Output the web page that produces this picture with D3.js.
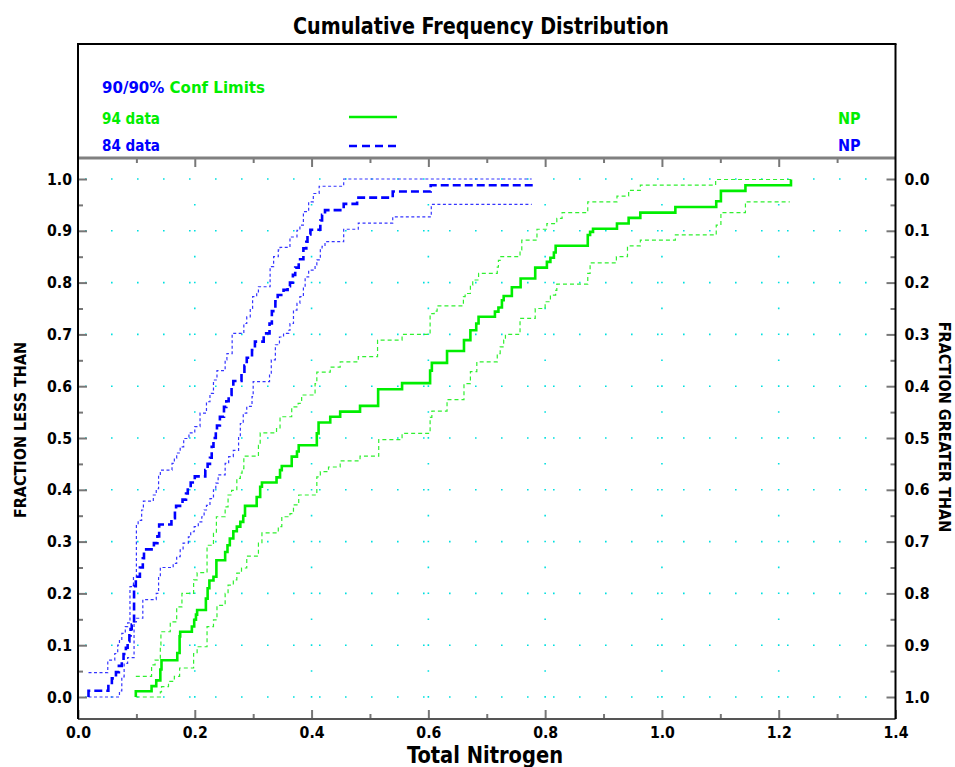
<!DOCTYPE html>
<html>
<head>
<meta charset="UTF-8">
<title>Cumulative Frequency Distribution</title>
<script src="https://cdn.jsdelivr.net/npm/d3@7/dist/d3.min.js"></script>
<style>
body{margin:0;background:#fff}
text{font-family:"DejaVu Sans Condensed","DejaVu Sans",sans-serif}
</style>
</head>
<body>
<svg width="955" height="767"></svg>
<script>
// tick values
var xTicks = [0, 0.2, 0.4, 0.6, 0.8, 1.0, 1.2, 1.4];
var xMinor = [0.1, 0.3, 0.5, 0.7, 0.9, 1.1, 1.3];
var yTicks = [0, 0.1, 0.2, 0.3, 0.4, 0.5, 0.6, 0.7, 0.8, 0.9, 1.0];
var yMinor = [0.05, 0.15, 0.25, 0.35, 0.45, 0.55, 0.65, 0.75, 0.85, 0.95];
var xGrid = [0.2, 0.4, 0.6, 0.8, 1.0, 1.2];

// 84 data (blue) : step points [x, fraction]
var blueMain = [[0.018,0],[0.018,0.012],[0.052,0.024],[0.058,0.036],[0.065,0.048],[0.070,0.060],[0.075,0.071],[0.078,0.083],[0.082,0.095],[0.085,0.107],[0.088,0.119],[0.090,0.131],[0.092,0.140],[0.096,0.214],[0.099,0.232],[0.106,0.250],[0.111,0.268],[0.113,0.285],[0.130,0.297],[0.136,0.310],[0.139,0.333],[0.160,0.345],[0.166,0.360],[0.168,0.369],[0.179,0.381],[0.185,0.393],[0.188,0.405],[0.193,0.414],[0.200,0.426],[0.218,0.438],[0.222,0.450],[0.226,0.462],[0.229,0.483],[0.232,0.500],[0.236,0.512],[0.238,0.524],[0.243,0.541],[0.250,0.560],[0.254,0.571],[0.258,0.583],[0.263,0.600],[0.266,0.610],[0.280,0.625],[0.285,0.640],[0.289,0.655],[0.298,0.670],[0.303,0.686],[0.318,0.702],[0.328,0.721],[0.332,0.745],[0.338,0.764],[0.342,0.776],[0.352,0.786],[0.359,0.793],[0.363,0.800],[0.368,0.815],[0.372,0.829],[0.378,0.845],[0.386,0.866],[0.391,0.879],[0.393,0.893],[0.398,0.902],[0.415,0.920],[0.418,0.931],[0.423,0.940],[0.455,0.952],[0.478,0.964],[0.539,0.976],[0.604,0.988],[0.783,0.988]];
var blueUpper = [[0.018,0.047],[0.051,0.071],[0.063,0.084],[0.068,0.100],[0.071,0.110],[0.075,0.123],[0.081,0.136],[0.085,0.143],[0.089,0.213],[0.095,0.232],[0.100,0.333],[0.103,0.341],[0.109,0.361],[0.112,0.378],[0.129,0.390],[0.134,0.402],[0.138,0.428],[0.141,0.438],[0.161,0.451],[0.165,0.461],[0.169,0.471],[0.175,0.483],[0.181,0.499],[0.190,0.510],[0.200,0.522],[0.209,0.548],[0.220,0.570],[0.226,0.586],[0.232,0.612],[0.238,0.630],[0.252,0.651],[0.255,0.663],[0.264,0.702],[0.284,0.721],[0.289,0.734],[0.295,0.750],[0.299,0.773],[0.306,0.782],[0.309,0.792],[0.329,0.831],[0.335,0.850],[0.343,0.863],[0.346,0.868],[0.363,0.888],[0.375,0.901],[0.380,0.911],[0.386,0.937],[0.395,0.956],[0.403,0.972],[0.413,0.986],[0.455,1.0],[0.777,1.0]];
var blueLower = [[0.018,0],[0.071,0.012],[0.075,0.039],[0.079,0.065],[0.085,0.076],[0.096,0.145],[0.100,0.152],[0.111,0.188],[0.134,0.200],[0.138,0.232],[0.141,0.250],[0.163,0.258],[0.169,0.271],[0.175,0.284],[0.180,0.297],[0.189,0.309],[0.193,0.319],[0.199,0.329],[0.206,0.338],[0.212,0.348],[0.216,0.361],[0.220,0.370],[0.226,0.383],[0.232,0.400],[0.236,0.413],[0.240,0.429],[0.252,0.451],[0.258,0.464],[0.266,0.476],[0.275,0.503],[0.278,0.528],[0.283,0.548],[0.289,0.561],[0.298,0.580],[0.300,0.609],[0.328,0.625],[0.331,0.651],[0.338,0.680],[0.345,0.695],[0.352,0.702],[0.361,0.708],[0.363,0.721],[0.369,0.747],[0.375,0.760],[0.380,0.773],[0.386,0.792],[0.389,0.811],[0.395,0.824],[0.406,0.834],[0.409,0.844],[0.415,0.863],[0.418,0.870],[0.423,0.879],[0.455,0.903],[0.480,0.915],[0.539,0.927],[0.605,0.951],[0.777,0.951]];

// 94 data (green)
var greenMain = [[0.099,0],[0.099,0.011],[0.126,0.021],[0.134,0.032],[0.141,0.053],[0.143,0.071],[0.170,0.085],[0.174,0.117],[0.175,0.126],[0.195,0.136],[0.199,0.149],[0.202,0.159],[0.204,0.168],[0.219,0.190],[0.222,0.210],[0.225,0.225],[0.232,0.232],[0.237,0.264],[0.252,0.280],[0.256,0.293],[0.260,0.306],[0.266,0.320],[0.272,0.329],[0.278,0.338],[0.283,0.350],[0.286,0.369],[0.306,0.386],[0.312,0.406],[0.315,0.414],[0.340,0.424],[0.346,0.438],[0.349,0.446],[0.366,0.464],[0.375,0.474],[0.378,0.486],[0.409,0.509],[0.412,0.530],[0.432,0.541],[0.449,0.551],[0.483,0.562],[0.514,0.594],[0.555,0.606],[0.603,0.630],[0.606,0.645],[0.632,0.668],[0.661,0.689],[0.672,0.708],[0.682,0.721],[0.686,0.734],[0.714,0.744],[0.720,0.752],[0.726,0.766],[0.729,0.774],[0.743,0.791],[0.758,0.808],[0.783,0.829],[0.803,0.840],[0.809,0.848],[0.815,0.858],[0.818,0.871],[0.873,0.892],[0.877,0.898],[0.882,0.904],[0.923,0.914],[0.943,0.925],[0.963,0.935],[1.023,0.946],[1.093,0.957],[1.101,0.977],[1.143,0.988],[1.221,0.999]];
var greenUpper = [[0.099,0.040],[0.126,0.062],[0.132,0.071],[0.141,0.100],[0.142,0.126],[0.158,0.145],[0.169,0.174],[0.178,0.200],[0.198,0.226],[0.204,0.240],[0.221,0.293],[0.232,0.316],[0.237,0.348],[0.252,0.367],[0.257,0.390],[0.263,0.399],[0.272,0.422],[0.278,0.432],[0.281,0.441],[0.284,0.465],[0.309,0.486],[0.312,0.510],[0.340,0.518],[0.346,0.541],[0.366,0.560],[0.377,0.567],[0.383,0.583],[0.406,0.605],[0.409,0.627],[0.432,0.637],[0.449,0.647],[0.480,0.657],[0.513,0.689],[0.555,0.700],[0.603,0.740],[0.610,0.745],[0.615,0.755],[0.660,0.773],[0.663,0.779],[0.672,0.795],[0.676,0.805],[0.686,0.818],[0.718,0.830],[0.720,0.843],[0.723,0.850],[0.757,0.863],[0.760,0.882],[0.786,0.903],[0.803,0.914],[0.820,0.924],[0.829,0.935],[0.873,0.956],[0.923,0.967],[0.943,0.978],[0.963,0.988],[1.092,0.999],[1.221,0.999]];
var greenLower = [[0.099,0],[0.141,0.010],[0.143,0.020],[0.155,0.030],[0.165,0.040],[0.174,0.056],[0.198,0.084],[0.204,0.097],[0.221,0.136],[0.232,0.149],[0.238,0.177],[0.252,0.200],[0.257,0.216],[0.266,0.226],[0.272,0.239],[0.280,0.249],[0.289,0.272],[0.309,0.297],[0.315,0.317],[0.343,0.329],[0.349,0.348],[0.363,0.354],[0.369,0.371],[0.378,0.390],[0.409,0.425],[0.415,0.435],[0.429,0.444],[0.449,0.456],[0.483,0.465],[0.515,0.497],[0.555,0.509],[0.603,0.540],[0.606,0.552],[0.632,0.574],[0.661,0.605],[0.672,0.628],[0.683,0.647],[0.718,0.663],[0.723,0.676],[0.729,0.689],[0.732,0.700],[0.757,0.731],[0.783,0.750],[0.800,0.763],[0.809,0.776],[0.818,0.785],[0.820,0.797],[0.873,0.818],[0.877,0.838],[0.922,0.850],[0.941,0.871],[0.963,0.882],[1.023,0.892],[1.093,0.911],[1.101,0.935],[1.143,0.956],[1.219,0.956]];

var svg = d3.select('svg');
var L = 78, R = 895.5, T = 158, B = 719, boxTop = 44;

var x = d3.scaleLinear().domain([0, 1.4]).range([L, R]);
var y = d3.scaleLinear().domain([0, 1]).range([697, 179]);
var yR = d3.scaleLinear().domain([1, 0]).range([697, 179]);

// grid dots
var grid = svg.append('g').attr('stroke', '#00e0e0').attr('stroke-width', 1.6);
grid.selectAll('.hg').data(yTicks).enter().append('line')
  .attr('x1', L + 7).attr('x2', R - 5)
  .attr('y1', function(d){ return y(d); }).attr('y2', function(d){ return y(d); })
  .attr('stroke-dasharray', '1.6,24.4');
grid.selectAll('.vg').data(xGrid).enter().append('line')
  .attr('x1', function(d){ return x(d); }).attr('x2', function(d){ return x(d); })
  .attr('y1', y(1) + 25).attr('y2', B)
  .attr('stroke-dasharray', '1.6,24.3');

// axes
function styleAxis(g){
  g.select('.domain').remove();
  g.selectAll('.tick line').attr('stroke', '#777').attr('stroke-width', 2);
  g.selectAll('.tick text').attr('fill', '#000').attr('font-size', 16).attr('font-weight', 'bold')
    .attr('textLength', 25).attr('lengthAdjust', 'spacingAndGlyphs')
    .style('font-family', '"DejaVu Sans Condensed","DejaVu Sans",sans-serif');
}
var fmt = d3.format('.1f');
svg.append('g').attr('transform', 'translate(' + L + ',0)')
  .call(d3.axisLeft(y).tickValues(yTicks).tickFormat(fmt).tickSizeInner(-9).tickSizeOuter(0).tickPadding(6))
  .call(styleAxis);
svg.append('g').attr('transform', 'translate(' + L + ',0)')
  .call(d3.axisLeft(y).tickValues(yMinor).tickFormat('').tickSizeInner(-5).tickSizeOuter(0))
  .call(styleAxis);
svg.append('g').attr('transform', 'translate(' + R + ',0)')
  .call(d3.axisRight(yR).tickValues(yTicks).tickFormat(fmt).tickSizeInner(-9).tickSizeOuter(0).tickPadding(9))
  .call(styleAxis);
svg.append('g').attr('transform', 'translate(' + R + ',0)')
  .call(d3.axisRight(yR).tickValues(yMinor).tickFormat('').tickSizeInner(-5).tickSizeOuter(0))
  .call(styleAxis);
svg.append('g').attr('transform', 'translate(0,' + B + ')')
  .call(d3.axisBottom(x).tickValues(xTicks).tickFormat(fmt).tickSizeInner(-9).tickSizeOuter(0).tickPadding(8))
  .call(styleAxis);
svg.append('g').attr('transform', 'translate(0,' + B + ')')
  .call(d3.axisBottom(x).tickValues(xMinor).tickFormat('').tickSizeInner(-5).tickSizeOuter(0))
  .call(styleAxis);
svg.append('g').attr('transform', 'translate(0,' + T + ')')
  .call(d3.axisTop(x).tickValues(xTicks.slice(1, -1)).tickFormat('').tickSizeInner(-9).tickSizeOuter(0))
  .call(styleAxis);
svg.append('g').attr('transform', 'translate(0,' + T + ')')
  .call(d3.axisTop(x).tickValues(xMinor).tickFormat('').tickSizeInner(-5).tickSizeOuter(0))
  .call(styleAxis);

// frame
svg.append('line').attr('x1', L).attr('x2', R).attr('y1', T).attr('y2', T).attr('stroke', '#808080').attr('stroke-width', 3);
svg.append('line').attr('x1', L).attr('x2', R).attr('y1', B).attr('y2', B).attr('stroke', '#555').attr('stroke-width', 2);
svg.append('line').attr('x1', L - 1).attr('x2', R + 1).attr('y1', boxTop).attr('y2', boxTop).attr('stroke', '#000').attr('stroke-width', 2);
svg.append('line').attr('x1', L).attr('x2', L).attr('y1', boxTop).attr('y2', B).attr('stroke', '#000').attr('stroke-width', 2);
svg.append('line').attr('x1', R).attr('x2', R).attr('y1', boxTop).attr('y2', B).attr('stroke', '#000').attr('stroke-width', 2);

// curves
var line = d3.line().x(function(d){ return x(d[0]); }).y(function(d){ return y(d[1]); }).curve(d3.curveStepAfter);
var curves = [
  {data: greenLower, color: '#30f030', w: 1.2, dash: '4,3'},
  {data: greenUpper, color: '#30f030', w: 1.2, dash: '4,3'},
  {data: blueLower, color: '#3535ff', w: 1.2, dash: '3,2.5'},
  {data: blueUpper, color: '#3535ff', w: 1.2, dash: '3,2.5'},
  {data: greenMain, color: '#00ee00', w: 2.6, dash: null},
  {data: blueMain, color: '#0000ff', w: 2.6, dash: '8,4'}
];
svg.append('g').selectAll('path').data(curves).enter().append('path')
  .attr('d', function(d){ return line(d.data); })
  .attr('fill', 'none')
  .attr('stroke', function(d){ return d.color; })
  .attr('stroke-width', function(d){ return d.w; })
  .attr('stroke-dasharray', function(d){ return d.dash; });

// title and axis titles
svg.append('text').attr('x', 293).attr('y', 34)
  .attr('font-size', 23).attr('font-weight', 'bold')
  .attr('textLength', 376).attr('lengthAdjust', 'spacingAndGlyphs')
  .text('Cumulative Frequency Distribution');
svg.append('text').attr('x', 407).attr('y', 763)
  .attr('font-size', 23).attr('font-weight', 'bold')
  .attr('textLength', 156).attr('lengthAdjust', 'spacingAndGlyphs')
  .text('Total Nitrogen');
svg.append('text').attr('transform', 'translate(26,430) rotate(-90)').attr('text-anchor', 'middle')
  .attr('font-size', 16).attr('font-weight', 'bold').text('FRACTION LESS THAN');
svg.append('text').attr('transform', 'translate(939,427) rotate(90)').attr('text-anchor', 'middle')
  .attr('font-size', 16).attr('font-weight', 'bold').text('FRACTION GREATER THAN');

// legend
var lg = svg.append('g').attr('font-size', 16).attr('font-weight', 'bold');
var t = lg.append('text').attr('x', 102).attr('y', 93)
  .attr('textLength', 163).attr('lengthAdjust', 'spacingAndGlyphs');
t.append('tspan').attr('fill', '#0000ff').text('90/90%');
t.append('tspan').attr('fill', '#00ee00').text(' Conf Limits');
lg.append('text').attr('x', 102).attr('y', 124).attr('fill', '#00ee00')
  .attr('textLength', 58).attr('lengthAdjust', 'spacingAndGlyphs').text('94 data');
lg.append('text').attr('x', 102).attr('y', 151).attr('fill', '#0000ff')
  .attr('textLength', 58).attr('lengthAdjust', 'spacingAndGlyphs').text('84 data');
lg.append('text').attr('x', 838).attr('y', 124).attr('fill', '#00ee00').text('NP');
lg.append('text').attr('x', 838).attr('y', 151).attr('fill', '#0000ff').text('NP');
svg.append('line').attr('x1', 349).attr('x2', 397).attr('y1', 117).attr('y2', 117)
  .attr('stroke', '#00ee00').attr('stroke-width', 2.6);
svg.append('line').attr('x1', 349).attr('x2', 397).attr('y1', 146).attr('y2', 146)
  .attr('stroke', '#0000ff').attr('stroke-width', 2.6).attr('stroke-dasharray', '8,5');
</script>
</body>
</html>
